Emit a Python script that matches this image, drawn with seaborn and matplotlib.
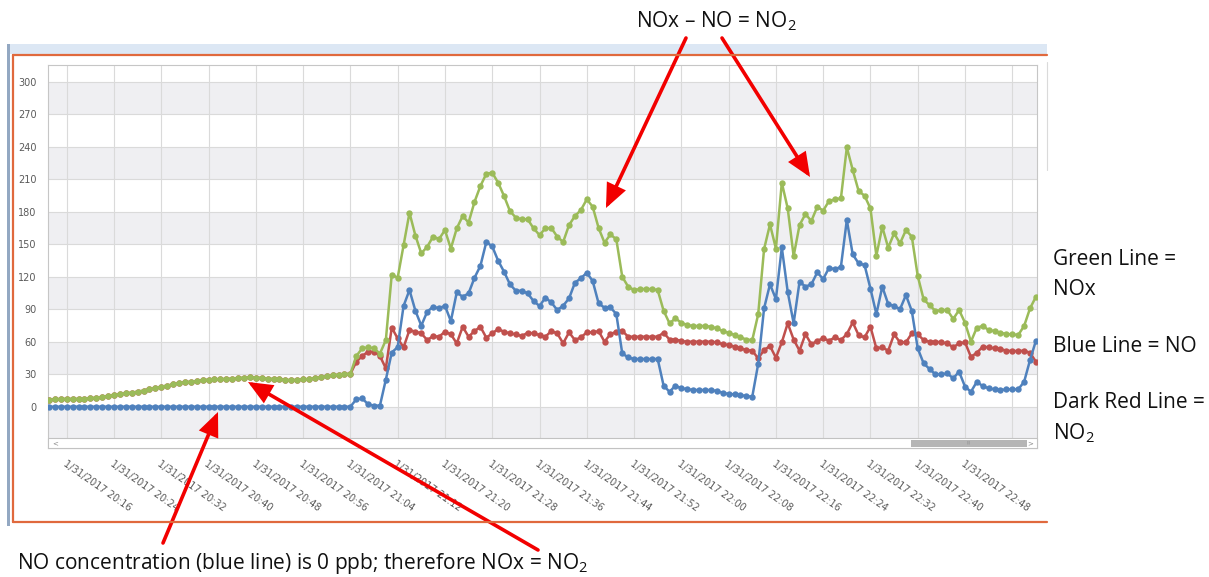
import numpy as np
import pandas as pd
import matplotlib
matplotlib.use("Agg")
import matplotlib.pyplot as plt
import matplotlib.dates as mdates
from matplotlib.ticker import FixedLocator, NullFormatter
from matplotlib.patches import Rectangle, FancyArrowPatch
from matplotlib.lines import Line2D
import seaborn as sns

# ---------------------------------------------------------------- data (ppb, 1-minute readings from 20:13)
start_time = "2017-01-31 20:13"

nox_ppb = [
    6.2, 6.8, 7.1, 7.1, 7.1, 7.1, 7.4, 7.7, 8.3, 8.9, 9.8, 10.8,
    11.4, 12.3, 12.9, 13.8, 14.8, 16.0, 17.0, 18.5,
    19.4, 20.6, 21.5, 22.5, 23.0, 23.7, 24.3, 24.9,
    25.2, 25.5, 25.5, 25.8, 26.2, 26.8, 27.0, 26.8,
    26.5, 25.8, 25.5, 25.2, 24.6, 24.6, 24.6, 25.2,
    25.5, 26.2, 27.0, 28.0, 28.9, 29.5, 30.2, 30.2,
    46.8, 53.8, 54.8, 53.8, 49.0, 61.5, 122.0, 119.0,
    149.0, 179.0, 158.0, 141.5, 147.7, 157.0, 154.8, 163.0,
    146.0, 164.6, 176.0, 170.0, 189.0, 203.7, 215.0, 216.0,
    206.8, 194.5, 180.6,
    174.5, 173.0, 173.0, 164.6, 158.5, 164.6, 165.0, 157.0, 152.0, 167.7,
    176.0, 181.5, 191.4, 184.6, 165.0, 151.4, 159.0, 154.5, 120.0, 110.8,
    107.7, 108.6, 108.6, 108.6, 107.7, 88.6, 77.0, 81.5, 77.5, 75.4,
    74.5, 74.5, 74.5, 73.8, 72.3, 69.8, 68.3, 66.2, 64.0, 62.0,
    61.5, 85.2, 145.5, 168.3, 146.0, 206.8, 183.0, 139.0, 167.7, 177.8,
    171.4, 184.6, 181.0, 190.0, 191.4, 192.3, 239.4, 218.5, 199.0,
    194.8, 183.0, 139.4, 166.0, 146.8, 160.0, 150.8, 163.0, 157.0, 120.6,
    99.0, 93.8, 88.3, 89.2, 89.2, 81.0, 89.2, 77.5, 60.0, 73.0,
    74.5, 70.8, 69.8, 68.3, 67.0, 66.8, 66.2, 74.5, 90.8, 101.5,
]

no_ppb = [0.0] * 52 + [
    6.8, 7.7, 2.2, 1.0, 1.0, 25.0, 50.0, 55.0,
    93.0, 107.7, 88.6, 74.8, 87.7, 92.3, 90.8, 93.2,
    79.0, 105.5, 101.5, 104.6, 119.0, 130.0, 152.0, 148.0,
    134.8, 124.6, 113.0,
    107.0, 107.0, 104.6, 97.5, 93.0, 100.6, 96.3, 89.2, 93.2, 100.0,
    114.5, 118.5, 123.7, 116.0, 95.4, 91.4, 91.7, 85.5, 49.2, 45.5,
    44.0, 44.0, 44.0, 44.0, 44.0, 19.4, 13.8, 19.4, 17.0, 16.3,
    15.4, 15.4, 15.4, 15.4, 14.5, 12.9, 11.7, 11.4, 10.8, 9.8,
    9.2, 39.4, 90.8, 113.0, 99.4, 147.0, 106.0, 77.0, 115.4, 110.8,
    113.0, 124.0, 117.8, 128.3, 126.8, 129.2, 172.3, 140.6, 132.3,
    130.8, 109.0, 85.5, 110.8, 94.8, 93.0, 90.0, 103.0, 88.3, 53.8,
    40.0, 34.8, 29.8, 29.8, 30.8, 26.2, 32.3, 18.5, 13.8, 23.0,
    19.0, 17.0, 16.0, 15.4, 16.0, 16.0, 16.0, 23.0, 43.0, 61.0,
]

no2_ppb = [
    6.2, 6.8, 7.1, 7.1, 7.1, 7.1, 7.4, 7.7, 8.3, 8.9, 9.8, 10.8,
    11.4, 12.3, 12.9, 13.8, 14.8, 16.0, 17.0, 18.5,
    19.4, 20.6, 21.5, 22.5, 23.0, 23.7, 24.3, 24.9,
    25.2, 25.5, 25.5, 25.8, 26.2, 26.8, 27.0, 26.8,
    26.5, 25.8, 25.5, 25.2, 24.6, 24.6, 24.6, 25.2,
    25.5, 26.2, 27.0, 28.0, 28.9, 29.5, 30.2, 30.2,
    41.5, 46.8, 50.8, 50.8, 46.8, 35.4, 73.0, 63.0,
    54.8, 70.8, 69.2, 67.7, 61.5, 65.2, 64.6, 69.2,
    66.8, 58.5, 73.8, 64.6, 69.8, 73.8, 63.7, 67.7,
    71.7, 69.2, 67.7,
    66.8, 65.2, 68.3, 67.7, 66.2, 64.6, 69.8, 67.7, 58.5, 68.6,
    61.5, 64.0, 68.6, 68.6, 69.8, 60.0, 67.0, 69.2, 70.0, 64.6,
    64.6, 64.6, 64.6, 64.6, 64.6, 68.3, 62.0, 62.0, 60.6, 60.0,
    60.0, 60.0, 60.0, 60.0, 59.4, 57.8, 57.0, 55.4, 53.8, 52.3,
    51.7, 44.6, 52.3, 56.0, 45.2, 59.4, 77.0, 62.0, 51.7, 67.0,
    57.5, 61.0, 63.0, 61.0, 64.0, 61.5, 67.0, 77.8, 66.0,
    64.0, 73.8, 53.8, 54.8, 51.7, 66.8, 59.4, 59.4, 67.7, 66.8,
    61.5, 60.0, 60.0, 59.4, 58.5, 54.8, 58.5, 59.4, 46.0, 49.8,
    55.4, 54.8, 53.8, 53.2, 51.7, 51.4, 51.4, 51.7, 49.8, 41.5,
]

tick_times = [
    "20:16", "20:24", "20:32", "20:40", "20:48", "20:56", "21:04",
    "21:12", "21:20", "21:28", "21:36", "21:44", "21:52", "22:00",
    "22:08", "22:16", "22:24", "22:32", "22:40", "22:48", "22:56",
]
tick_labels = [
    "1/31/2017 20:16", "1/31/2017 20:24", "1/31/2017 20:32", "1/31/2017 20:40",
    "1/31/2017 20:48", "1/31/2017 20:56", "1/31/2017 21:04", "1/31/2017 21:12",
    "1/31/2017 21:20", "1/31/2017 21:28", "1/31/2017 21:36", "1/31/2017 21:44",
    "1/31/2017 21:52", "1/31/2017 22:00", "1/31/2017 22:08", "1/31/2017 22:16",
    "1/31/2017 22:24", "1/31/2017 22:32", "1/31/2017 22:40", "1/31/2017 22:48",
    "",
]
y_ticks = [0, 30, 60, 90, 120, 150, 180, 210, 240, 270, 300]

series_colors = {"NO2": "#C0504D", "NO": "#4F81BD", "NOx": "#9BBB59"}

# ---------------------------------------------------------------- long-form table
times = pd.date_range(start=start_time, periods=len(nox_ppb), freq="min")
df = pd.concat([
    pd.DataFrame({"time": times, "ppb": no2_ppb, "species": "NO2"}),
    pd.DataFrame({"time": times, "ppb": no_ppb, "species": "NO"}),
    pd.DataFrame({"time": times, "ppb": nox_ppb, "species": "NOx"}),
], ignore_index=True)

# ---------------------------------------------------------------- figure
sns.set_style("white")
plt.rcParams["font.family"] = ["Open Sans", "DejaVu Sans"]
plt.rcParams["mathtext.fontset"] = "custom"
plt.rcParams["mathtext.rm"] = "Open Sans"

W, H = 1209, 577
fig = plt.figure(figsize=(W / 100, H / 100), dpi=100)
fig.patch.set_facecolor("white")

# plot box in pixel units of the canvas
L, R, T, B = 48, 1036.5, 65, 448
ax = fig.add_axes([L / W, 1 - B / H, (R - L) / W, (B - T) / H])
ax.set_facecolor("white")

# alternating horizontal bands
for lo in [-45, 30, 90, 150, 210, 270]:
    hi = 0 if lo < 0 else lo + 30
    ax.axhspan(lo, hi, color="#EFEFF2", lw=0, zorder=0)

sns.lineplot(
    data=df, x="time", y="ppb", hue="species",
    hue_order=["NO2", "NO", "NOx"], palette=series_colors,
    marker="o", markersize=4.6, markeredgewidth=0, linewidth=1.8,
    estimator=None, legend=False, ax=ax, zorder=3,
)

t_ref = pd.Timestamp("2017-01-31 20:16")
px_per_min = 5.91
x_left = t_ref + pd.Timedelta(minutes=(L - 66.7) / px_per_min)
x_right = t_ref + pd.Timedelta(minutes=(R - 66.7) / px_per_min)
ax.set_xlim(mdates.date2num(x_left), mdates.date2num(x_right))
ax.set_ylim((406.7 - B) / 1.0833, (406.7 - T) / 1.0833)

# y axis
ax.yaxis.set_major_locator(FixedLocator(y_ticks))
ax.yaxis.set_minor_locator(FixedLocator([v for v in range(-20, 311, 10) if v % 30]))
ax.set_yticklabels([str(v) for v in y_ticks], fontsize=7, color="#5A5A5A",
                   fontfamily="DejaVu Sans")
ax.tick_params(axis="y", which="major", length=7.2, width=0.8, color="#CFCFCF", pad=1)
ax.tick_params(axis="y", which="minor", length=2.5, width=0.7, color="#BDBDBD")

# x axis
tick_nums = [mdates.date2num(pd.Timestamp("2017-01-31 " + t)) for t in tick_times]
ax.xaxis.set_major_locator(FixedLocator(tick_nums))
ax.xaxis.set_minor_locator(mdates.MinuteLocator(byminute=range(60)))
ax.xaxis.set_minor_formatter(NullFormatter())
ax.set_xticklabels(tick_labels, fontsize=7, color="#5A5A5A", fontfamily="DejaVu Sans",
                   rotation=-35, ha="left", va="top", rotation_mode="anchor")
ax.tick_params(axis="x", which="major", length=3.5, width=0.7, color="#C4C4C4", pad=4)
ax.tick_params(axis="x", which="minor", length=2.5, width=0.6, color="#C4C4C4")

ax.grid(True, which="major", color="#DADADA", lw=0.8)
ax.set_axisbelow(True)
ax.set_xlabel("")
ax.set_ylabel("")
for s in ax.spines.values():
    s.set_color("#C6C6C6")
    s.set_linewidth(0.8)

# horizontal scroll bar along the bottom of the plot box
sb_h = (B - 438) / (B - T)
ax.add_patch(Rectangle((0, 0), 1, sb_h, transform=ax.transAxes, facecolor="white",
                       edgecolor="#C2C2C2", lw=0.8, zorder=6, clip_on=False))
ax.add_patch(Rectangle(((910.7 - L) / (R - L), (B - 446.5) / (B - T)),
                       (1026.7 - 910.7) / (R - L), (446.5 - 440) / (B - T),
                       transform=ax.transAxes, facecolor="#B5B5B5", lw=0, zorder=7))
ax.text(0.004, sb_h / 2, "<", transform=ax.transAxes, fontsize=5, color="#8A8A8A",
        ha="left", va="center", zorder=8, fontfamily="DejaVu Sans")
ax.text(0.997, sb_h / 2, ">", transform=ax.transAxes, fontsize=5, color="#8A8A8A",
        ha="right", va="center", zorder=8, fontfamily="DejaVu Sans")
ax.text((968.5 - L) / (R - L), sb_h / 2, "|||", transform=ax.transAxes, fontsize=3,
        color="#8C8C8C", ha="center", va="center", zorder=8, fontfamily="DejaVu Sans")

# ---------------------------------------------------------------- panel frame, notes and arrows
ov = fig.add_axes([0, 0, 1, 1], zorder=10)
ov.set_xlim(0, W)
ov.set_ylim(H, 0)
ov.axis("off")
ov.patch.set_alpha(0)

ov.add_patch(Rectangle((10, 44), 1037, 10, facecolor="#DCE7F4", lw=0))
ov.add_patch(Rectangle((6.5, 44), 3.5, 482, facecolor="#93A8C2", lw=0))
frame_c = "#E0693D"
ov.add_line(Line2D([12.5, 1047], [54.5, 54.5], color=frame_c, lw=1.6))
ov.add_line(Line2D([12.5, 12.5], [54.5, 522], color=frame_c, lw=1.6))
ov.add_line(Line2D([12.5, 1047], [522, 522], color=frame_c, lw=1.6))
ov.add_line(Line2D([1047, 1047], [62, 170], color="#DADADA", lw=0.8))

txt_kw = dict(fontsize=15, color="#111111", ha="left", va="baseline")
ov.text(636, 27, "NOx – NO = NO$_\\mathregular{2}$", **txt_kw)
ov.text(17, 569, "NO concentration (blue line) is 0 ppb; therefore NOx = NO$_\\mathregular{2}$", **txt_kw)
ov.text(1053, 265, "Green Line =", **txt_kw)
ov.text(1053, 295, "NOx", **txt_kw)
ov.text(1053, 351.7, "Blue Line = NO", **txt_kw)
ov.text(1053, 408, "Dark Red Line =", **txt_kw)
ov.text(1053, 439.3, "NO$_\\mathregular{2}$", **txt_kw)

arrows = [
    ((686, 38), (606, 208)),
    ((722, 38), (810, 177)),
    ((163, 543), (218, 412)),
    ((538, 550), (248, 382)),
]
for tail, head in arrows:
    ov.add_patch(FancyArrowPatch(tail, head, arrowstyle="-|>,head_length=0.65,head_width=0.28",
                                 mutation_scale=20, lw=2.6, color="#F20000",
                                 shrinkA=0, shrinkB=0, joinstyle="miter"))

fig.savefig("out.png", dpi=100, facecolor="white")
